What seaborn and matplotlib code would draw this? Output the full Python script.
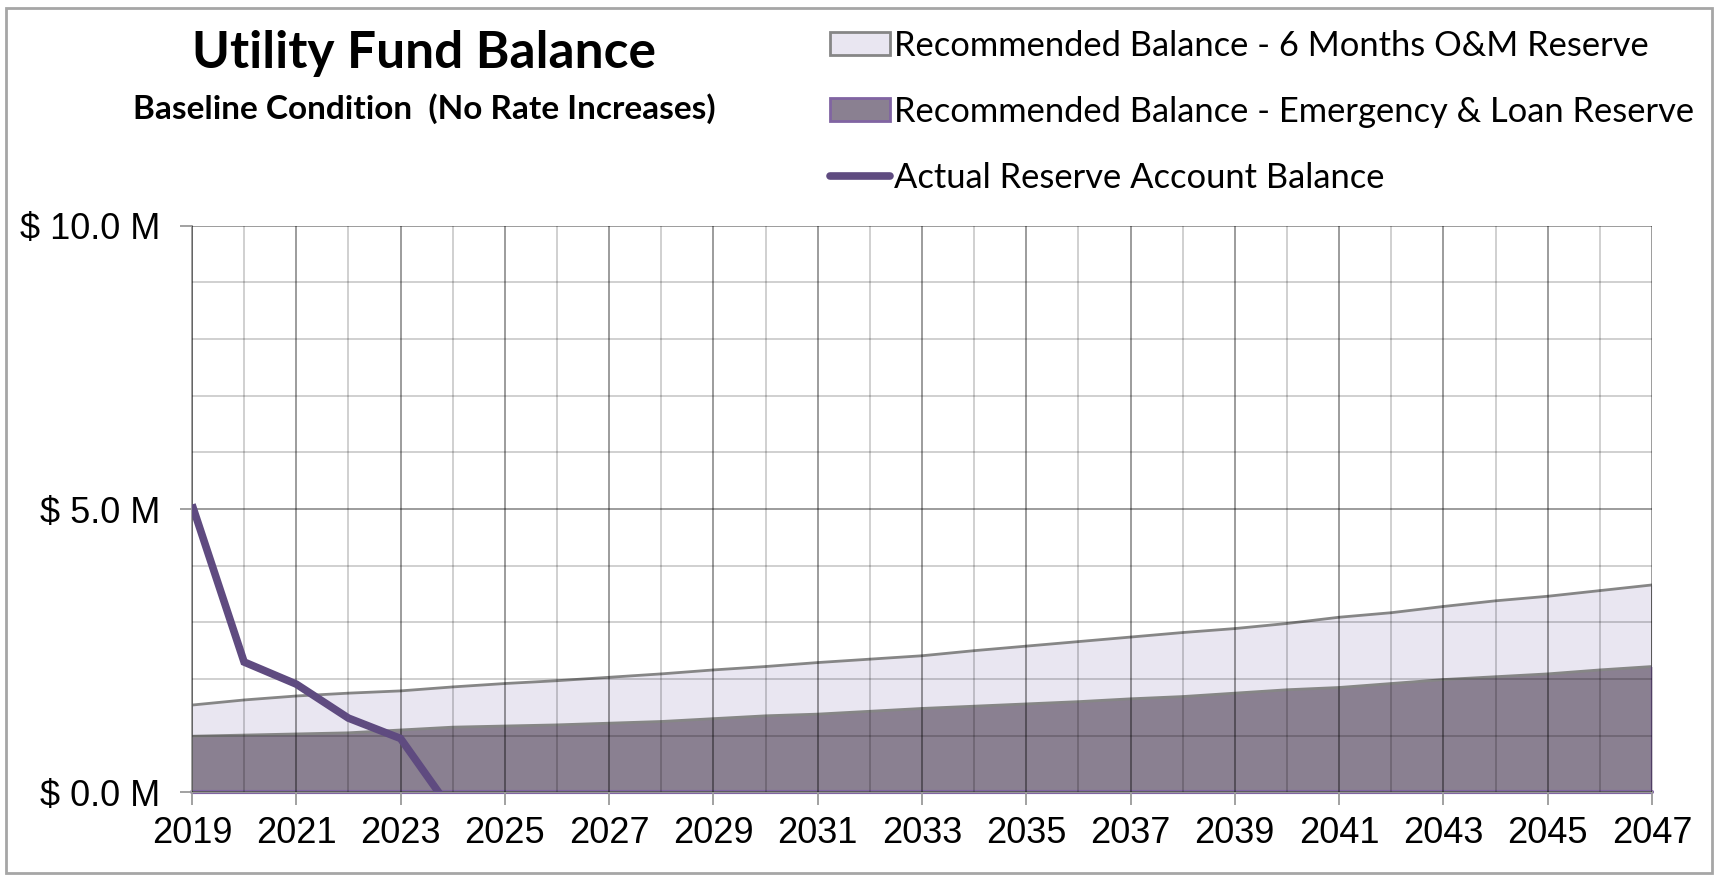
import matplotlib
matplotlib.use("Agg")
import matplotlib.pyplot as plt
from matplotlib.patches import Patch, Rectangle
from matplotlib.lines import Line2D
from matplotlib.ticker import MultipleLocator, FixedLocator, FuncFormatter
import numpy as np
import pandas as pd
import seaborn as sns

# Fiscal years covered by the projection
years = list(range(2019, 2048))
year_ticks = list(range(2019, 2048, 2))

# Recommended emergency & loan reserve ($ millions)
emergency_loan = [0.99, 1.01, 1.03, 1.05, 1.10, 1.15, 1.17, 1.19, 1.22, 1.25,
                  1.30, 1.35, 1.38, 1.43, 1.48, 1.52, 1.56, 1.60, 1.65, 1.69,
                  1.75, 1.81, 1.85, 1.92, 1.99, 2.04, 2.09, 2.16, 2.22]

# Recommended 6-month O&M reserve, stacked on top ($ millions)
om_reserve = [0.55, 0.62, 0.67, 0.70, 0.69, 0.71, 0.75, 0.78, 0.81, 0.84,
              0.86, 0.87, 0.91, 0.92, 0.93, 0.98, 1.02, 1.06, 1.09, 1.13,
              1.14, 1.17, 1.24, 1.25, 1.29, 1.34, 1.37, 1.40, 1.44]

# Actual reserve account balance ($ millions)
actual_years = [2019, 2020, 2021, 2022, 2023, 2024]
actual_balance = [5.08, 2.30, 1.91, 1.31, 0.95, -0.35]

title = "Utility Fund Balance"
subtitle = "Baseline Condition  (No Rate Increases)"
label_om = "Recommended Balance - 6 Months O&M Reserve"
label_em = "Recommended Balance - Emergency & Loan Reserve"
label_act = "Actual Reserve Account Balance"

df = pd.DataFrame({"year": years, "emergency": emergency_loan, "om": om_reserve})
df["total"] = df["emergency"] + df["om"]
act = pd.DataFrame({"year": actual_years, "balance": actual_balance})

sns.set_theme(style="white")
plt.rcParams["font.family"] = ["Liberation Sans", "DejaVu Sans"]
plt.rcParams["text.color"] = "black"

C_LIGHT = "#e9e6f1"
C_DARK = "#8a8091"
C_EDGE_GRAY = "#868686"
C_EDGE_PURPLE = "#8064a2"
C_ACTUAL = "#5f4b80"

fig = plt.figure(figsize=(17.17, 8.75), dpi=100)
ax = fig.add_axes([0.1118, 0.0945, 0.8503, 0.6475])

# stacked reserve areas
ax.fill_between(df["year"], 0, df["emergency"], color=C_DARK, lw=0, zorder=1)
ax.fill_between(df["year"], df["emergency"], df["total"], color=C_LIGHT, lw=0, zorder=1)
sns.lineplot(data=df, x="year", y="total", ax=ax, color=C_EDGE_GRAY, lw=2, zorder=2)
sns.lineplot(data=df, x="year", y="emergency", ax=ax, color=C_EDGE_GRAY, lw=2, zorder=2)
ax.plot([years[-1], years[-1]], [df["emergency"].iloc[-1], df["total"].iloc[-1]],
        color=C_EDGE_GRAY, lw=2, zorder=2)
ax.plot([years[-1], years[-1]], [0, df["emergency"].iloc[-1]],
        color=C_EDGE_PURPLE, lw=2.5, zorder=2)
ax.plot([years[0], years[-1]], [0, 0], color=C_EDGE_PURPLE, lw=3, zorder=2, clip_on=False)

# actual balance
sns.lineplot(data=act, x="year", y="balance", ax=ax, color=C_ACTUAL, lw=5.5,
             zorder=4, solid_joinstyle="miter", solid_capstyle="butt")

ax.set_xlim(2019, 2047)
ax.set_ylim(0, 10)
ax.set_xlabel("")
ax.set_ylabel("")

ax.xaxis.set_major_locator(FixedLocator(year_ticks))
ax.xaxis.set_minor_locator(MultipleLocator(1))
ax.yaxis.set_major_locator(MultipleLocator(5))
ax.yaxis.set_minor_locator(MultipleLocator(1))
ax.yaxis.set_major_formatter(FuncFormatter(lambda v, p: f"$ {v:.1f} M"))
ax.xaxis.set_major_formatter(FuncFormatter(lambda v, p: f"{int(round(v))}"))

ax.set_axisbelow(False)
ax.grid(which="minor", color="black", alpha=0.2, lw=1.3, zorder=3)
ax.grid(which="major", color="black", alpha=0.42, lw=1.3, zorder=3)

ax.tick_params(axis="both", which="major", labelsize=26, length=9, width=1.3,
               color="#9a9a9a", direction="out", labelcolor="black")
ax.tick_params(axis="x", which="major", pad=8, bottom=True)
ax.tick_params(axis="y", which="major", pad=14, left=True)
ax.tick_params(axis="both", which="minor", length=0)

for side in ["top", "right"]:
    ax.spines[side].set_visible(False)
ax.spines["left"].set_color("#9a9a9a")
ax.spines["left"].set_linewidth(1.3)
ax.spines["bottom"].set_color("#9a9a9a")
ax.spines["bottom"].set_linewidth(1.3)

# titles
fig.text(424 / 1717, 1 - 68 / 875, title, ha="center", va="baseline", color="black",
         fontsize=37, fontweight="bold", family=["Lato", "DejaVu Sans"])
fig.text(424 / 1717, 1 - 119 / 875, subtitle, ha="center", va="baseline", color="black",
         fontsize=24, fontweight="bold", family=["Lato", "DejaVu Sans"])

# legend
handles = [
    Patch(facecolor=C_LIGHT, edgecolor=C_EDGE_GRAY, lw=2),
    Patch(facecolor=C_DARK, edgecolor=C_EDGE_PURPLE, lw=2),
    Line2D([0], [0], color=C_ACTUAL, lw=5.5),
]
leg = fig.legend(handles, [label_om, label_em, label_act], loc="upper left",
                 bbox_to_anchor=(830 / 1717, 1 - 30 / 875), frameon=False,
                 prop={"family": ["Lato", "DejaVu Sans"], "size": 24.8},
                 handlelength=1.75, handleheight=0.65, handletextpad=0.1,
                 labelspacing=0.98, borderaxespad=0, borderpad=0)
for t in leg.get_texts():
    t.set_color("black")

# outer chart frame
fig.patches.append(Rectangle((6 / 1717, 2 / 875), 1706 / 1717, 865 / 875,
                             transform=fig.transFigure, fill=False,
                             edgecolor="#a6a6a6", lw=2))

fig.savefig("out.png", dpi=100)
